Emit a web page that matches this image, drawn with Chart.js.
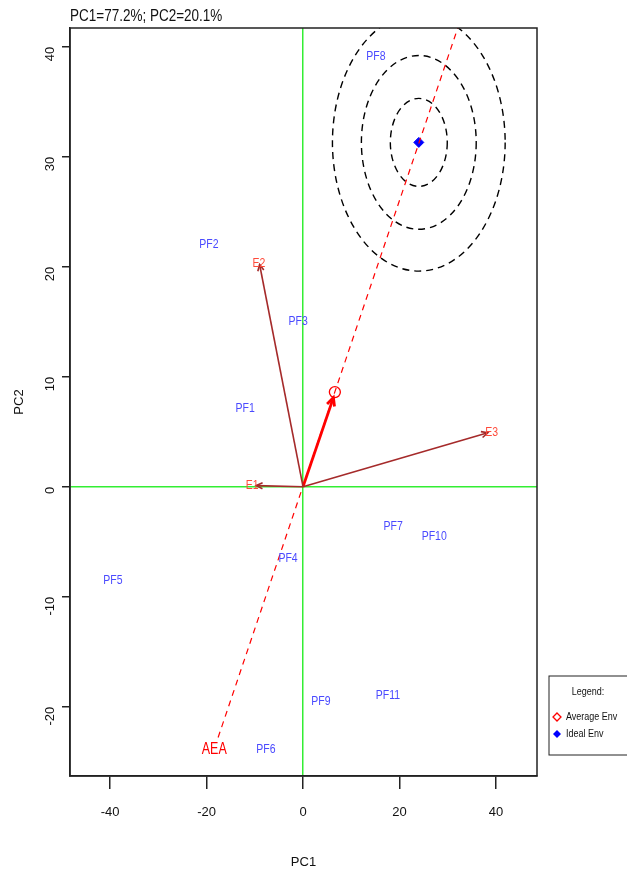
<!DOCTYPE html>
<html>
<head>
<meta charset="utf-8">
<script src="https://cdn.jsdelivr.net/npm/chart.js@4"></script>
<style>
  html, body { margin: 0; padding: 0; background: #fff; }
</style>
</head>
<body>
<canvas id="chart" width="627" height="874"></canvas>
<script>
// genotypes (blue labels)
const genotypes = ['PF1', 'PF2', 'PF3', 'PF4', 'PF5', 'PF6', 'PF7', 'PF8', 'PF9', 'PF10', 'PF11'];
const genoPC1 = [-12.0, -19.5, -1.0, -3.1, -39.4, -7.7, 18.7, 15.1, 3.7, 27.2, 17.6];
const genoPC2 = [7.1, 22.0, 15.0, -6.5, -8.5, -23.9, -3.6, 39.1, -19.5, -4.5, -19.0];

// environment vectors
const envs = ['E1', 'E2', 'E3'];
const envPC1 = [-9.7, -9.0, 38.3];
const envPC2 = [0.1, 20.2, 4.9];

// average environment axis and markers
const avgEnv = [6.6, 8.6];
const idealEnv = [24.0, 31.3];
const aeaFrom = [-17.6, -22.8];
const aeaTo = [34.0, 44.2];
const aeaLabel = [-18.4, -23.9];

// concentric rings round the ideal environment (data units)
const ringRx = [5.9, 11.9, 17.9];
const ringRy = [4.0, 7.9, 11.7];

const xTicks = [-40, -20, 0, 20, 40];
const yTicks = [-20, -10, 0, 10, 20, 30, 40];

const FONT = '"Liberation Sans", Arial, sans-serif';
const BROWN = '#a52a2a';

const datasets = [];
envs.forEach((e, i) => {
    datasets.push({
        label: e,
        data: [{x: 0, y: 0}, {x: envPC1[i], y: envPC2[i]}],
        borderColor: BROWN, borderWidth: 1.6, pointRadius: 0,
        showLine: true, arrow: {color: BROWN, width: 1.6, len: 7}
    });
});
datasets.push({
    label: 'AEA',
    data: [{x: aeaFrom[0], y: aeaFrom[1]}, {x: aeaTo[0], y: aeaTo[1]}],
    borderColor: '#ff0000', borderWidth: 1.2, borderDash: [6, 5],
    pointRadius: 0, showLine: true, clip: 0
});
datasets.push({
    label: 'avgArrow',
    data: [{x: 0, y: 0}, {x: avgEnv[0] - 0.3, y: avgEnv[1] - 0.5}],
    borderColor: '#ff0000', borderWidth: 2.8, pointRadius: 0,
    showLine: true, arrow: {color: '#ff0000', width: 2.8, len: 9}
});
datasets.push({
    label: 'Average Env',
    data: [{x: avgEnv[0], y: avgEnv[1]}],
    pointStyle: 'circle', pointRadius: 5.5, borderColor: '#ff0000',
    borderWidth: 1.3, backgroundColor: 'rgba(0,0,0,0)'
});
datasets.push({
    label: 'Ideal Env',
    data: [{x: idealEnv[0], y: idealEnv[1]}],
    pointStyle: 'rectRot', pointRadius: 5, borderColor: '#0000ff',
    borderWidth: 1, backgroundColor: '#0000ff'
});
datasets.push({
    label: 'genotypes',
    data: genotypes.map((g, i) => ({x: genoPC1[i], y: genoPC2[i]})),
    pointRadius: 0
});

// text a little taller than wide, like the original export
function tallText(ctx, s, px, py) {
    ctx.save();
    ctx.translate(px, py);
    ctx.scale(1, 1.25);
    ctx.fillText(s, 0, 0);
    ctx.restore();
}

const overlay = {
    id: 'overlay',
    beforeDatasetsDraw(chart) {
        const {ctx, chartArea: a, scales: {x, y}} = chart;
        ctx.save();
        ctx.beginPath();
        ctx.rect(a.left, a.top, a.right - a.left, a.bottom - a.top);
        ctx.clip();
        ctx.strokeStyle = '#000';
        ctx.lineWidth = 1.4;
        ctx.setLineDash([7, 5]);
        const cx = x.getPixelForValue(idealEnv[0]);
        const cy = y.getPixelForValue(idealEnv[1]);
        ringRx.forEach((rx, i) => {
            const px = Math.abs(x.getPixelForValue(rx) - x.getPixelForValue(0));
            const py = Math.abs(y.getPixelForValue(ringRy[i]) - y.getPixelForValue(0));
            ctx.beginPath();
            ctx.ellipse(cx, cy, px, py, 0, 0, Math.PI * 2);
            ctx.stroke();
        });
        ctx.restore();
    },
    afterDatasetsDraw(chart) {
        const {ctx, scales: {x, y}} = chart;
        ctx.save();
        // arrow heads
        chart.data.datasets.forEach((ds, di) => {
            if (!ds.arrow) return;
            const pts = chart.getDatasetMeta(di).data;
            const p0 = pts[0], p1 = pts[1];
            const ang = Math.atan2(p1.y - p0.y, p1.x - p0.x);
            ctx.strokeStyle = ds.arrow.color;
            ctx.lineWidth = ds.arrow.width;
            ctx.beginPath();
            ctx.moveTo(p1.x - ds.arrow.len * Math.cos(ang - 0.45), p1.y - ds.arrow.len * Math.sin(ang - 0.45));
            ctx.lineTo(p1.x, p1.y);
            ctx.lineTo(p1.x - ds.arrow.len * Math.cos(ang + 0.45), p1.y - ds.arrow.len * Math.sin(ang + 0.45));
            ctx.stroke();
        });
        ctx.textAlign = 'center';
        ctx.textBaseline = 'middle';
        // genotype labels
        const gi = chart.data.datasets.findIndex(d => d.label === 'genotypes');
        ctx.fillStyle = '#4a4aff';
        ctx.font = '10.5px ' + FONT;
        chart.getDatasetMeta(gi).data.forEach((pt, i) => {
            tallText(ctx, genotypes[i], pt.x, pt.y);
        });
        // environment labels, nudged past the arrow tip
        ctx.fillStyle = '#ff4a3a';
        envs.forEach((e, i) => {
            const px = x.getPixelForValue(envPC1[i]), py = y.getPixelForValue(envPC2[i]);
            const ox = x.getPixelForValue(0), oy = y.getPixelForValue(0);
            const len = Math.hypot(px - ox, py - oy);
            tallText(ctx, e, px + 4 * (px - ox) / len, py + 1 * (py - oy) / len);
        });
        ctx.fillStyle = '#ff0000';
        ctx.font = '12.5px ' + FONT;
        tallText(ctx, 'AEA', x.getPixelForValue(aeaLabel[0]), y.getPixelForValue(aeaLabel[1]));
        ctx.restore();
    },
    afterDraw(chart) {
        const {ctx, chartArea: a} = chart;
        ctx.save();
        // plot box
        ctx.strokeStyle = '#222';
        ctx.lineWidth = 1.5;
        ctx.strokeRect(a.left, a.top, a.right - a.left, a.bottom - a.top);
        // main title
        ctx.fillStyle = '#111';
        ctx.font = '13.5px ' + FONT;
        ctx.textAlign = 'left';
        ctx.textBaseline = 'middle';
        tallText(ctx, 'PC1=77.2%; PC2=20.1%', a.left, a.top - 12);
        // legend box
        const lx = a.right + 12, ly = 676;
        ctx.lineWidth = 1;
        ctx.strokeRect(lx, ly, 100, 79);
        ctx.font = '9px ' + FONT;
        ctx.textAlign = 'center';
        tallText(ctx, 'Legend:', lx + 39, ly + 16);
        ctx.textAlign = 'left';
        tallText(ctx, 'Average Env', lx + 17, ly + 41);
        tallText(ctx, 'Ideal Env', lx + 17, ly + 58);
        const d = 4;
        ctx.strokeStyle = '#ff0000';
        ctx.lineWidth = 1.3;
        ctx.beginPath();
        ctx.moveTo(lx + 8, ly + 41 - d); ctx.lineTo(lx + 8 + d, ly + 41);
        ctx.lineTo(lx + 8, ly + 41 + d); ctx.lineTo(lx + 8 - d, ly + 41);
        ctx.closePath(); ctx.stroke();
        ctx.fillStyle = '#0000ff';
        ctx.beginPath();
        ctx.moveTo(lx + 8, ly + 58 - d); ctx.lineTo(lx + 8 + d, ly + 58);
        ctx.lineTo(lx + 8, ly + 58 + d); ctx.lineTo(lx + 8 - d, ly + 58);
        ctx.closePath(); ctx.fill();
        ctx.restore();
    }
};

const zeroGrid = (c) => c.tick && c.tick.value === 0 ? '#33ee33' : 'rgba(0,0,0,0)';

new Chart(document.getElementById('chart'), {
    type: 'scatter',
    data: {datasets: datasets},
    options: {
        responsive: false,
        animation: false,
        layout: {padding: {left: 0, right: 90, top: 28, bottom: 0}},
        plugins: {legend: {display: false}, tooltip: {enabled: false}},
        scales: {
            x: {
                min: -48.3, max: 48.5,
                afterBuildTicks: (s) => { s.ticks = xTicks.map(v => ({value: v})); },
                afterFit: (s) => { s.height = 98; },
                grid: {color: zeroGrid, lineWidth: 1.5, tickColor: '#222', tickLength: 13, tickWidth: 1.5},
                border: {display: true, color: '#222', width: 1.5},
                ticks: {color: '#111', font: {family: FONT, size: 13}, padding: 16, maxRotation: 0},
                title: {display: true, text: 'PC1', color: '#111', font: {family: FONT, size: 13}, padding: {top: 22}}
            },
            y: {
                min: -26.3, max: 41.7,
                afterBuildTicks: (s) => { s.ticks = yTicks.map(v => ({value: v})); },
                afterFit: (s) => { s.width = 70; },
                grid: {color: zeroGrid, lineWidth: 1.5, tickColor: '#222', tickLength: 8, tickWidth: 1.5},
                border: {display: true, color: '#222', width: 1.5},
                ticks: {color: '#111', font: {family: FONT, size: 13}, padding: 12, minRotation: 90, maxRotation: 90},
                title: {display: true, text: 'PC2', color: '#111', font: {family: FONT, size: 13}, padding: {top: 12, bottom: 0}}
            }
        }
    },
    plugins: [overlay]
});
</script>
</body>
</html>
